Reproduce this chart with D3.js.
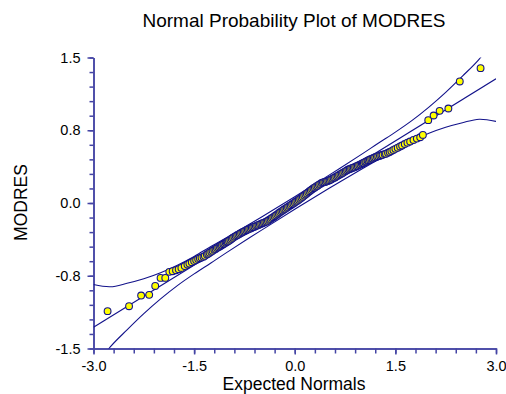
<!DOCTYPE html>
<html lang="en">
<head>
<meta charset="UTF-8">
<script src="https://cdn.jsdelivr.net/npm/d3@7"></script>
<style>
  html, body { margin: 0; padding: 0; background: #fff; }
  #chart { display: block; }
  text { font-family: Arial, "Liberation Sans", sans-serif; fill: #000; }
</style>
</head>
<body>
<svg id="chart" width="506" height="394"></svg>
<script>
// sorted residuals against their expected normal scores
const normals = [
  -2.79, -2.47, -2.29, -2.17, -2.08, -2.00, -1.93, -1.87, -1.82, -1.77, -1.73, -1.69,
  -1.64, -1.60, -1.57, -1.535, -1.50, -1.47, -1.44, -1.415, -1.39, -1.36,
  -1.34, -1.31, -1.29, -1.27, -1.245, -1.225, -1.20, -1.18, -1.16, -1.14,
  -1.12, -1.10, -1.085, -1.065, -1.05, -1.03, -1.015, -1.00,
  -0.98, -0.96, -0.94, -0.92, -0.90, -0.88, -0.86, -0.84, -0.82, -0.80,
  -0.78, -0.76, -0.74, -0.72, -0.70, -0.68, -0.66, -0.64, -0.62, -0.60,
  -0.58, -0.56, -0.54, -0.52, -0.50, -0.48, -0.46, -0.44, -0.42, -0.40,
  -0.38, -0.36, -0.34, -0.32, -0.30, -0.28, -0.26, -0.24, -0.22, -0.20,
  -0.18, -0.16, -0.14, -0.12, -0.10, -0.08, -0.06, -0.04, -0.02, 0.00,
  0.02, 0.04, 0.06, 0.08, 0.10, 0.12, 0.14, 0.16, 0.18, 0.20,
  0.22, 0.24, 0.26, 0.28, 0.30, 0.32, 0.34, 0.36, 0.38, 0.40,
  0.42, 0.44, 0.46, 0.48, 0.50, 0.52, 0.54, 0.56, 0.58, 0.60,
  0.62, 0.64, 0.66, 0.68, 0.70, 0.72, 0.74, 0.76, 0.78, 0.80,
  0.82, 0.84, 0.86, 0.88, 0.90, 0.92, 0.94, 0.96, 0.98,
  1.00, 1.015, 1.03, 1.05, 1.065, 1.085, 1.10, 1.12, 1.14, 1.16,
  1.18, 1.20, 1.225, 1.245, 1.27, 1.29, 1.31, 1.34, 1.36, 1.39,
  1.415, 1.44, 1.47, 1.50, 1.535, 1.57, 1.60, 1.64, 1.68, 1.72,
  1.77, 1.82, 1.87,
  1.91, 1.99, 2.07, 2.16, 2.29, 2.46, 2.77
];
const modres = [
  -1.115, -1.064, -0.954, -0.947, -0.855, -0.772, -0.772, -0.710, -0.703, -0.693, -0.682, -0.669,
  -0.650, -0.635, -0.624, -0.611, -0.599, -0.588, -0.577, -0.569, -0.562, -0.553,
  -0.545, -0.531, -0.522, -0.512, -0.502, -0.493, -0.482, -0.474, -0.465, -0.457,
  -0.448, -0.440, -0.433, -0.425, -0.418, -0.410, -0.403, -0.397,
  -0.388, -0.378, -0.368, -0.359, -0.349, -0.341, -0.333, -0.326, -0.317, -0.310,
  -0.302, -0.295, -0.288, -0.280, -0.274, -0.267, -0.262, -0.255, -0.250, -0.244,
  -0.238, -0.232, -0.226, -0.220, -0.214, -0.208, -0.202, -0.197, -0.191, -0.183,
  -0.173, -0.165, -0.155, -0.146, -0.136, -0.127, -0.117, -0.106, -0.096, -0.086,
  -0.077, -0.067, -0.058, -0.049, -0.040, -0.031, -0.022, -0.013, -0.004, 0.005,
  0.015, 0.024, 0.034, 0.044, 0.055, 0.065, 0.077, 0.088, 0.099, 0.110,
  0.121, 0.131, 0.141, 0.152, 0.161, 0.171, 0.179, 0.189, 0.197, 0.206,
  0.211, 0.215, 0.218, 0.223, 0.229, 0.235, 0.242, 0.249, 0.257, 0.264,
  0.273, 0.280, 0.289, 0.296, 0.305, 0.312, 0.321, 0.329, 0.337, 0.345,
  0.350, 0.356, 0.361, 0.367, 0.372, 0.379, 0.385, 0.392, 0.398,
  0.405, 0.410, 0.416, 0.423, 0.429, 0.436, 0.442, 0.448, 0.455, 0.460,
  0.466, 0.471, 0.478, 0.483, 0.488, 0.493, 0.497, 0.504, 0.509, 0.518,
  0.526, 0.535, 0.547, 0.558, 0.570, 0.583, 0.593, 0.608, 0.622, 0.634,
  0.650, 0.664, 0.678,
  0.702, 0.854, 0.902, 0.950, 0.974, 1.253, 1.390
];

// reference line and confidence band
const fitX = [-3, 3];
const fitY = [-1.281, 1.281];
const bandX = [-3, -2.75, -2.5, -2.25, -2, -1.75, -1.5, -1.25, -1, -0.5, 0, 0.5, 1, 1.25, 1.5, 1.75, 2, 2.25, 2.5, 2.75, 3];
const upperBand = [-0.841, -0.864, -0.828, -0.781, -0.719, -0.642, -0.551, -0.449, -0.350, -0.146, 0.065, 0.282, 0.504, 0.619, 0.731, 0.852, 0.989, 1.141, 1.308, 1.484, 1.721];
const lowerBand = [-1.721, -1.484, -1.308, -1.141, -0.989, -0.852, -0.731, -0.619, -0.504, -0.282, -0.065, 0.146, 0.350, 0.449, 0.551, 0.642, 0.719, 0.781, 0.828, 0.864, 0.841];

const xTickValues = [-3, -1.5, 0, 1.5, 3];
const xTickLabels = ["-3.0", "-1.5", "0.0", "1.5", "3.0"];
const yTickValues = [-1.5, -0.75, 0, 0.75, 1.5];
const yTickLabels = ["-1.5", "-0.8", "0.0", "0.8", "1.5"];

const title = "Normal Probability Plot of MODRES";
const xTitle = "Expected Normals";
const yTitle = "MODRES";

const axisColor = "#4444a4";
const lineColor = "#12128a";

const svg = d3.select("#chart");

const x = d3.scaleLinear().domain([-3, 3]).range([93.5, 496]);
const y = d3.scaleLinear().domain([-1.5, 1.5]).range([348.5, 57.5]);

svg.append("defs").append("clipPath").attr("id", "plot")
  .append("rect")
  .attr("x", x(-3)).attr("y", y(1.5))
  .attr("width", x(3) - x(-3)).attr("height", y(-1.5) - y(1.5));

// minor ticks
const xMinor = d3.range(-3, 3.001, 0.3);
const yMinor = d3.range(-1.5, 1.501, 0.15);

const gxMinor = svg.append("g")
  .attr("transform", `translate(0,${y(-1.5)})`)
  .call(d3.axisBottom(x).tickValues(xMinor).tickSize(5).tickFormat("").tickSizeOuter(0));
const gyMinor = svg.append("g")
  .attr("transform", `translate(${x(-3)},0)`)
  .call(d3.axisLeft(y).tickValues(yMinor).tickSize(4).tickFormat("").tickSizeOuter(0));

const gx = svg.append("g")
  .attr("transform", `translate(0,${y(-1.5)})`)
  .call(d3.axisBottom(x).tickValues(xTickValues).tickSize(6).tickPadding(6)
    .tickFormat((d, i) => xTickLabels[i]).tickSizeOuter(0));
const gy = svg.append("g")
  .attr("transform", `translate(${x(-3)},0)`)
  .call(d3.axisLeft(y).tickValues(yTickValues).tickSize(6).tickPadding(7)
    .tickFormat((d, i) => yTickLabels[i]).tickSizeOuter(0));

[gxMinor, gyMinor, gx, gy].forEach(g => {
  g.selectAll(".domain").attr("stroke", axisColor).attr("stroke-width", 1.5);
  g.selectAll(".tick line").attr("stroke", axisColor).attr("stroke-width", 1.5);
  g.selectAll("text").attr("font-size", 14.5).attr("fill", "#000")
    .attr("font-family", "Arial, 'Liberation Sans', sans-serif");
});

const plot = svg.append("g").attr("clip-path", "url(#plot)");

const curve = d3.line()
  .x(d => x(d[0]))
  .y(d => y(d[1]))
  .curve(d3.curveCatmullRom);

plot.append("path")
  .datum(fitX.map((d, i) => [d, fitY[i]]))
  .attr("d", d3.line().x(d => x(d[0])).y(d => y(d[1])))
  .attr("fill", "none").attr("stroke", lineColor).attr("stroke-width", 1.1);

plot.append("path")
  .datum(bandX.map((d, i) => [d, upperBand[i]]))
  .attr("d", curve)
  .attr("fill", "none").attr("stroke", lineColor).attr("stroke-width", 1.1);

plot.append("path")
  .datum(bandX.map((d, i) => [d, lowerBand[i]]))
  .attr("d", curve)
  .attr("fill", "none").attr("stroke", lineColor).attr("stroke-width", 1.1);

svg.append("g")
  .selectAll("circle")
  .data(normals.map((d, i) => [d, modres[i]]))
  .enter()
  .append("circle")
  .attr("cx", d => x(d[0]))
  .attr("cy", d => y(d[1]))
  .attr("r", 3.4)
  .attr("fill", "#ffff00")
  .attr("stroke", lineColor)
  .attr("stroke-width", 1.1);

svg.append("text")
  .attr("x", 294).attr("y", 27)
  .attr("text-anchor", "middle")
  .attr("font-size", 19)
  .text(title);

svg.append("text")
  .attr("x", 294).attr("y", 390)
  .attr("text-anchor", "middle")
  .attr("font-size", 17.5)
  .text(xTitle);

svg.append("text")
  .attr("transform", "translate(26.5,202.5) rotate(-90)")
  .attr("text-anchor", "middle")
  .attr("font-size", 17.5)
  .text(yTitle);
</script>
</body>
</html>
